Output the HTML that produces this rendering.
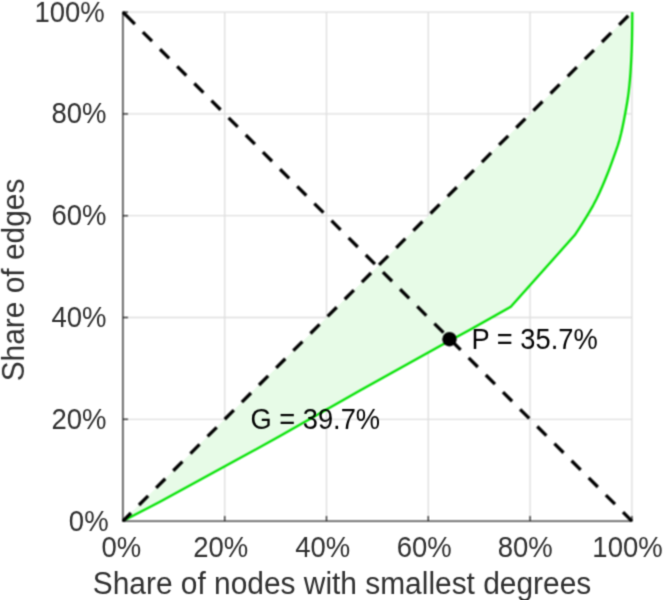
<!DOCTYPE html>
<html>
<head>
<meta charset="utf-8">
<title>Lorenz curve</title>
<style>
  html, body { margin: 0; padding: 0; background: #ffffff; }
  body { width: 668px; height: 600px; overflow: hidden; }
  svg { display: block; will-change: transform; }
  text { font-family: "Liberation Sans", sans-serif; }
  .tick { font-size: 27.5px; fill: #303030; }
  .lab  { font-size: 29.9px; fill: #303030; }
  .ann  { font-size: 27.3px; fill: #000000; }
</style>
</head>
<body>
<svg width="668" height="600" viewBox="0 0 668 600">
  <defs>
    <filter id="soft" filterUnits="userSpaceOnUse" x="0" y="0" width="668" height="600" color-interpolation-filters="sRGB">
      <feConvolveMatrix order="3" kernelMatrix="0.0676 0.1248 0.0676 0.1248 0.2304 0.1248 0.0676 0.1248 0.0676" divisor="1" edgeMode="duplicate" preserveAlpha="false"/>
    </filter>
    <filter id="softText" filterUnits="userSpaceOnUse" x="0" y="0" width="668" height="600" color-interpolation-filters="sRGB">
      <feConvolveMatrix order="3" kernelMatrix="0.0289 0.1122 0.0289 0.1122 0.4356 0.1122 0.0289 0.1122 0.0289" divisor="1" edgeMode="duplicate" preserveAlpha="false"/>
    </filter>
  </defs>
  <rect x="0" y="0" width="668" height="600" fill="#ffffff"/>
  <g filter="url(#soft)">
  <!-- grid -->
  <g stroke="#dedede" stroke-width="1.33" fill="none">
    <line x1="224.7" y1="12.1" x2="224.7" y2="521.1"/>
    <line x1="326.5" y1="12.1" x2="326.5" y2="521.1"/>
    <line x1="428.3" y1="12.1" x2="428.3" y2="521.1"/>
    <line x1="530.1" y1="12.1" x2="530.1" y2="521.1"/>
    <line x1="631.9" y1="12.1" x2="631.9" y2="521.1"/>
    <line x1="122.9" y1="419.3" x2="631.9" y2="419.3"/>
    <line x1="122.9" y1="317.5" x2="631.9" y2="317.5"/>
    <line x1="122.9" y1="215.7" x2="631.9" y2="215.7"/>
    <line x1="122.9" y1="113.9" x2="631.9" y2="113.9"/>
    <line x1="122.9" y1="12.1" x2="631.9" y2="12.1"/>
  </g>
  <!-- area between equality line and Lorenz curve -->
  <path fill="#e7fbe7" stroke="none" d="M122.9,521.1 L160,501.7 L240,458.1 L280,436.1 L360,390.6 L440,346 L470,329.7 L510.8,306.8 L574.6,235.3 L578.57,229.3 L582.41,223.3 L586.11,217.3 L589.72,211.3 L593.2,205.3 L596.36,199.3 L599.23,193.3 L601.91,187.3 L604.46,181.3 L606.9,175.3 L609.23,169.3 L611.45,163.3 L613.61,157.3 L615.76,151.3 L617.83,145.3 L619.65,139.3 L621.17,133.3 L622.51,127.3 L623.73,121.3 L624.87,115.3 L625.97,109.3 L627.02,103.3 L627.97,97.3 L628.74,91.3 L629.39,85.3 L629.96,79.3 L630.45,73.3 L630.84,67.3 L631.18,61.3 L631.48,55.3 L631.74,49.3 L631.93,43.3 L632.05,37.3 L632.14,31.3 L632.22,25.3 L632.27,19.3 L632.3,13.3 L632.3,12.1 Z"/>
  <!-- Lorenz curve -->
  <path fill="none" stroke="#00e200" stroke-width="2.3" stroke-linejoin="round" d="M122.9,521.1 L160,501.7 L240,458.1 L280,436.1 L360,390.6 L440,346 L470,329.7 L510.8,306.8 L574.6,235.3 L578.57,229.3 L582.41,223.3 L586.11,217.3 L589.72,211.3 L593.2,205.3 L596.36,199.3 L599.23,193.3 L601.91,187.3 L604.46,181.3 L606.9,175.3 L609.23,169.3 L611.45,163.3 L613.61,157.3 L615.76,151.3 L617.83,145.3 L619.65,139.3 L621.17,133.3 L622.51,127.3 L623.73,121.3 L624.87,115.3 L625.97,109.3 L627.02,103.3 L627.97,97.3 L628.74,91.3 L629.39,85.3 L629.96,79.3 L630.45,73.3 L630.84,67.3 L631.18,61.3 L631.48,55.3 L631.74,49.3 L631.93,43.3 L632.05,37.3 L632.14,31.3 L632.22,25.3 L632.27,19.3 L632.3,13.3 L632.3,12.1"/>
  <!-- axes -->
  <g stroke="#2a2a2a" stroke-width="1.35" fill="none">
    <line x1="122.9" y1="11.4" x2="122.9" y2="521.8"/>
    <line x1="122.2" y1="521.1" x2="632.6" y2="521.1"/>
  </g>
  <!-- ticks -->
  <g stroke="#2a2a2a" stroke-width="1.33" fill="none">
    <line x1="224.7" y1="521.1" x2="224.7" y2="516"/>
    <line x1="326.5" y1="521.1" x2="326.5" y2="516"/>
    <line x1="428.3" y1="521.1" x2="428.3" y2="516"/>
    <line x1="530.1" y1="521.1" x2="530.1" y2="516"/>
    <line x1="631.9" y1="521.1" x2="631.9" y2="516"/>
    <line x1="122.9" y1="419.3" x2="128" y2="419.3"/>
    <line x1="122.9" y1="317.5" x2="128" y2="317.5"/>
    <line x1="122.9" y1="215.7" x2="128" y2="215.7"/>
    <line x1="122.9" y1="113.9" x2="128" y2="113.9"/>
    <line x1="122.9" y1="12.1" x2="128" y2="12.1"/>
  </g>
  <!-- dashed diagonals -->
  <g stroke="#000000" stroke-width="3.3" fill="none" stroke-dasharray="12.9 11.35">
    <line x1="122.9" y1="521.1" x2="631.9" y2="12.1" stroke-dashoffset="1.5"/>
    <line x1="122.9" y1="12.1" x2="631.9" y2="521.1" stroke-dashoffset="-4"/>
  </g>
  <g stroke="#000000" stroke-width="3.3" fill="none">
    <line x1="122.9" y1="12.1" x2="126.08" y2="15.28"/>
  </g>
  <!-- P marker -->
  <circle cx="449.5" cy="339.2" r="7.2" fill="#000000"/>
  </g>
  <g opacity="0.999" filter="url(#softText)">
  <!-- y tick labels -->
    <text class="tick" transform="translate(108.6,530.6) scale(1,1.08)" text-anchor="end">0%</text>
    <text class="tick" transform="translate(106.4,428.8) scale(1,1.08)" text-anchor="end">20%</text>
    <text class="tick" transform="translate(106.4,327) scale(1,1.08)" text-anchor="end">40%</text>
    <text class="tick" transform="translate(106.4,225.2) scale(1,1.08)" text-anchor="end">60%</text>
    <text class="tick" transform="translate(106.4,123.4) scale(1,1.08)" text-anchor="end">80%</text>
    <text class="tick" transform="translate(104.8,21.8) scale(1,1.08)" text-anchor="end">100%</text>
  <!-- x tick labels -->
    <text class="tick" transform="translate(121.4,556.8) scale(1,1.08)" text-anchor="middle">0%</text>
    <text class="tick" transform="translate(220.8,556.8) scale(1,1.08)" text-anchor="middle">20%</text>
    <text class="tick" transform="translate(322.7,556.8) scale(1,1.08)" text-anchor="middle">40%</text>
    <text class="tick" transform="translate(424.3,556.8) scale(1,1.08)" text-anchor="middle">60%</text>
    <text class="tick" transform="translate(525.3,556.8) scale(1,1.08)" text-anchor="middle">80%</text>
    <text class="tick" transform="translate(627.5,556.8) scale(1,1.08)" text-anchor="middle">100%</text>
  <!-- axis labels -->
    <text class="lab" transform="translate(342,594.4) scale(1,1.06)" text-anchor="middle">Share of nodes with smallest degrees</text>
    <text class="lab" transform="translate(23.6,280) rotate(-90) scale(1,1.06)" text-anchor="middle">Share of edges</text>
  <!-- annotations -->
    <text class="ann" transform="translate(471.5,348.6) scale(1,1.08)">P = 35.7%</text>
    <text class="ann" transform="translate(250.4,428.7) scale(1,1.08)">G = 39.7%</text>
  </g>
</svg>
</body>
</html>
